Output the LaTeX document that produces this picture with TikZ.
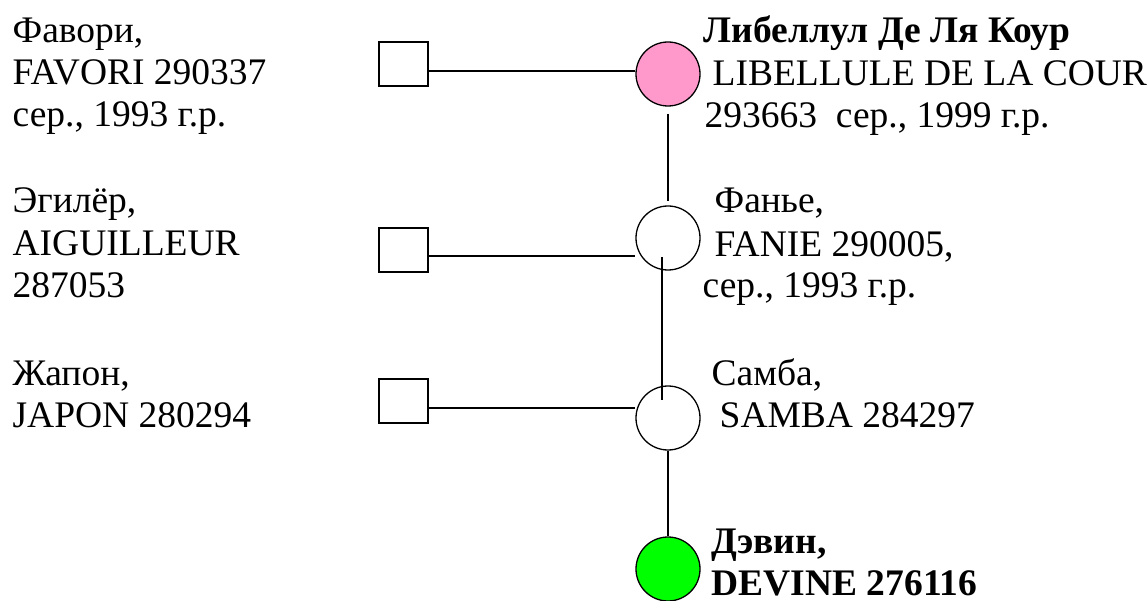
\documentclass[tikz,border=0pt]{standalone}
\usepackage{fontspec}
\setmainfont{Liberation Serif}
\newfontfamily\pedfont{Liberation Serif}
\usetikzlibrary{calc}
\definecolor{mare}{RGB}{255,153,204}
\definecolor{foal}{RGB}{0,255,0}

\begin{document}
\begin{tikzpicture}[x=1pt, y=-1pt, line width=1.3pt,
	sire/.style={draw, rectangle, minimum width=49pt, minimum height=44pt, inner sep=0pt},
	dam/.style={draw, circle, minimum size=64pt, inner sep=0pt},
	txt/.style={anchor=base west, inner sep=0pt, font=\pedfont\fontsize{37.5}{43}\selectfont},
	btxt/.style={txt, font=\pedfont\fontsize{37.5}{43}\selectfont\bfseries}]
	\useasboundingbox (0,0) rectangle (1148,601);
		\node[sire] (s1) at (403.5,64) {};
		\node[sire] (s2) at (403.5,250) {};
		\node[sire] (s3) at (403.5,401) {};
		\node[dam, fill=mare] (d1) at (668,74) {};
		\node[dam] (d2) at (668,238) {};
		\node[dam] (d3) at (668,418) {};
		\node[dam, fill=foal] (d4) at (668,569) {};
		\draw (s1.east) ++(0,7) coordinate (h1) -- (h1 -| d1.west);
		\draw (s2.east) ++(0,6) coordinate (h2) -- (h2 -| d2.west);
		\draw (s3.east) ++(0,7) coordinate (h3) -- (h3 -| d3.west);
		\draw ($(d1.south)+(0,7)$) -- ($(d2.north)+(0,-4)$);
		\draw ($(d2.center)+(-6,19)$) -- ($(d3.center)+(-6,-18)$);
		\draw (d3.south) -- (d4.north);
		\node[txt] (f1) at (12,43) {Фавори,};
		\node[txt] (f2) at (12,85) {FAVORI 290337};
		\node[txt] (f3) at (12,127) {сер., 1993 г.р.};
		\node[txt] (a1) at (12,213) {Эгилёр,};
		\node[txt] (a2) at (12,256) {AIGUILLEUR};
		\node[txt] (a3) at (12,298) {287053};
		\node[txt] (j1) at (12,385) {Жапон,};
		\node[txt] (j2) at (12,427) {JAPON 280294};
		\node[btxt] (l1) at (703,43) {Либеллул Де Ля Коур};
		\node[txt] (l2) at (712,86) {LIBELLULE DE LA COUR};
		\node[txt] (l3) at (704,128) {293663\ \ сер., 1999 г.р.};
		\node[txt] (n1) at (714,213) {Фанье,};
		\node[txt] (n2) at (714,257) {FANIE 290005,};
		\node[txt] (n3) at (702,298) {сер., 1993 г.р.};
		\node[txt] (m1) at (711,385) {Самба,};
		\node[txt] (m2) at (719,427) {SAMBA 284297};
		\node[btxt] (v1) at (711,553) {Дэвин,};
		\node[btxt] (v2) at (711,595) {DEVINE 276116};
	\end{tikzpicture}
\end{document}
